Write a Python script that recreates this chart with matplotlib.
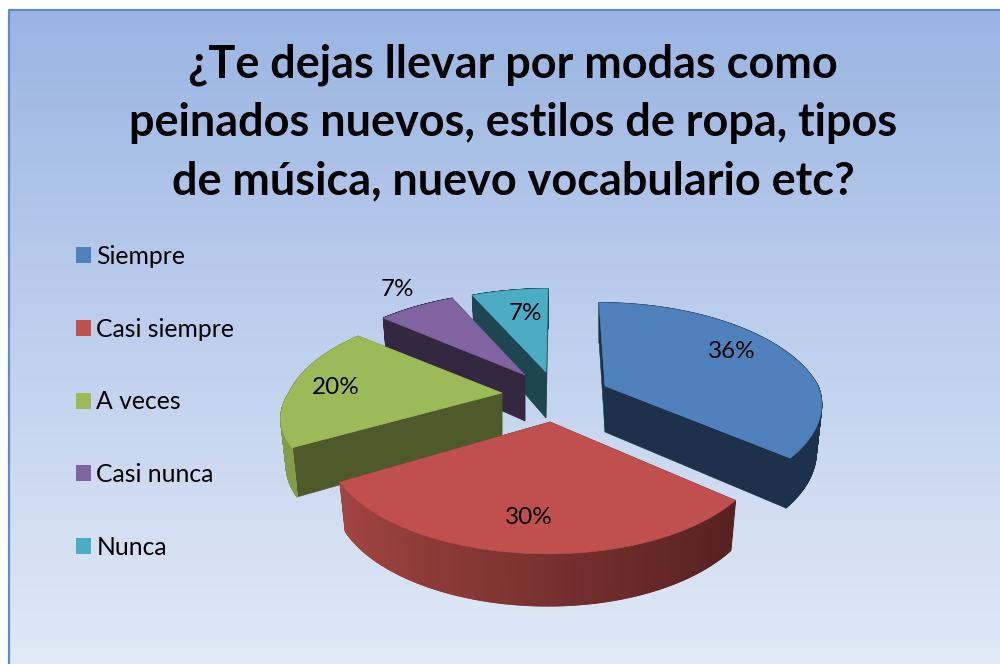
import numpy as np
import matplotlib
matplotlib.use("Agg")
import matplotlib.pyplot as plt
from matplotlib.patches import Polygon, Patch
from matplotlib.collections import PolyCollection

# ---- data ----
categories = ["Siempre", "Casi siempre", "A veces", "Casi nunca", "Nunca"]
values = [36, 30, 20, 7, 7]
title_text = "¿Te dejas llevar por modas como\npeinados nuevos, estilos de ropa, tipos\nde música, nuevo vocabulario etc?"

# ---- style ----
top_colors = ["#4F81BD", "#C0504D", "#9BBB59", "#8064A2", "#4BACC6"]
cut_colors = ["#1D314B", "#4F1D1B", "#4E5A2A", "#332840", "#1E4650"]
rim_left = [(29, 49, 75), (168, 72, 68), (130, 157, 74), (51, 40, 64), (30, 70, 80)]
rim_right = [(29, 49, 75), (75, 28, 27), (130, 157, 74), (51, 40, 64), (30, 70, 80)]
apex = [(605, 386), (550, 422), (502, 393), (525, 375), (546, 372)]
lean = [-6, 0, 0, 3, 2]
front_scale = [0.95, 1.0, 0.88, 1.0, 1.0]
tilt = [0, 5, 0, 0, 0]
label_offset = [(127, -34), (-21, 96), (-166, -5), (-128, -85), (-21, -58)]
draw_order = [4, 3, 0, 2, 1]
RX, RY, PERSP = 213, 102, 0.226
FONT = "Lato"


def project(theta, i):
    ax0, ay0 = apex[i]
    ux, uy = np.sin(theta), np.cos(theta)
    s = 1 / (1 + PERSP * uy)
    shift = -10 * np.maximum(0, -uy) + lean[i] * np.maximum(0, uy)
    yscale = np.where(uy < 0, front_scale[i], 1.0)
    return ax0 + RX * ux * s + shift, ay0 - RY * uy * s * yscale + tilt[i] * ux * np.maximum(0, -uy), uy


def lower(px, py, uy, ax0):
    return ax0 + (px - ax0) * 0.975, py + 46 - 6 * uy


fig = plt.figure(figsize=(10, 6.64), dpi=100, facecolor="white")
ax = fig.add_axes([0, 0, 1, 1])
ax.set_xlim(0, 1000)
ax.set_ylim(664, 0)
ax.axis("off")

# chart background gradient
stops_y = [0, 300, 664]
stops_c = np.array([[154, 181, 227], [187, 205, 236], [225, 233, 246]]) / 255
rows = np.linspace(0, 664, 332)
grad = np.stack([np.interp(rows, stops_y, stops_c[:, i]) for i in range(3)], axis=1)[:, None, :]
ax.imshow(grad, extent=[9, 1000, 664, 10], aspect="auto", zorder=0)
ax.set_xlim(0, 1000)
ax.set_ylim(664, 0)
ax.plot([9, 9, 1000], [664, 10, 10], color="#5F8BC6", lw=1.6, zorder=1, solid_capstyle="butt")

# pie slices
fractions = np.array(values) / np.sum(values)
edges = np.concatenate([[0], np.cumsum(fractions)]) * 2 * np.pi
z = 2
for i in draw_order:
    ax0, ay0 = apex[i]
    th = np.linspace(edges[i], edges[i + 1], 360)
    px, py, uy = project(th, i)
    bx, by = lower(px, py, uy, ax0)
    bax, bay = lower(ax0, ay0, 0.0, ax0)
    # cut faces (behind the rim)
    for e in (0, -1):
        ax.add_patch(Polygon([(ax0, ay0), (px[e], py[e]), (bx[e], by[e]), (bax, bay)],
                             closed=True, fc=cut_colors[i], ec=cut_colors[i], lw=0.4, zorder=z))
    # outer rim as shaded strips
    quads, cols = [], []
    for k in range(len(th) - 1):
        quads.append([(px[k], py[k]), (px[k + 1], py[k + 1]), (bx[k + 1], by[k + 1]), (bx[k], by[k])])
        t = (np.sin(th[k]) + 1) / 2
        cols.append(tuple((np.array(rim_left[i]) * (1 - t) + np.array(rim_right[i]) * t) / 255))
    ax.add_collection(PolyCollection(quads, facecolors=cols, edgecolors=cols, linewidths=1.0, zorder=z + 0.1))
    # top surface
    ax.add_patch(Polygon(np.vstack([[ax0, ay0], np.column_stack([px, py])]), closed=True,
                         fc=top_colors[i], ec=top_colors[i], lw=0.4, zorder=z + 0.2))
    z += 1

# percentage labels
for i, v in enumerate(values):
    ax.text(apex[i][0] + label_offset[i][0], apex[i][1] + label_offset[i][1], f"{v}%",
            ha="center", va="center", fontsize=17.5, family=FONT, color="black", zorder=20)

# title
ax.text(513, 123, title_text, ha="center", va="center", fontsize=32.4, fontweight="bold",
        family=FONT, color="black", linespacing=1.478, zorder=20)

# legend
handles = [Patch(fc=c, ec="none") for c in top_colors]
leg = ax.legend(handles, categories, loc="upper left", bbox_to_anchor=(76 / 1000, 1 - 245 / 664),
                frameon=False, borderaxespad=0, borderpad=0,
                handlelength=0.62, handleheight=0.62, handletextpad=0.2, labelspacing=2.01,
                prop={"family": FONT, "size": 17.8})
leg.set_zorder(20)

fig.savefig("out.png", dpi=100, facecolor="white")
